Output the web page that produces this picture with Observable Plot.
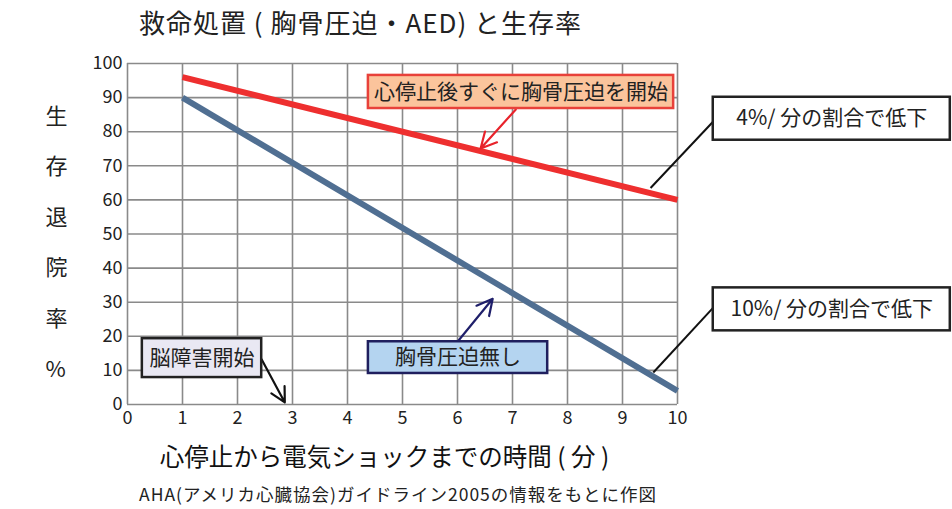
<!DOCTYPE html>
<html><head><meta charset="utf-8">
<script src="https://cdn.jsdelivr.net/npm/d3@7"></script>
<script src="https://cdn.jsdelivr.net/npm/@observablehq/plot@0.6"></script>
<style>
body{margin:0;background:#fff;font-family:"Noto Sans CJK JP",sans-serif;color:#222;width:952px;}
#title{height:44px;line-height:44px;font-size:26px;letter-spacing:1px;padding-left:139px;white-space:nowrap;}
#caption{height:26px;line-height:26px;font-size:17.5px;letter-spacing:1px;padding-left:139px;white-space:nowrap;}
</style></head><body>
<div id="title">救命処置 ( 胸骨圧迫・AED) と生存率</div>
<div id="chart"></div>
<div id="caption">AHA(アメリカ心臓協会)ガイドライン2005の情報をもとに作図</div>
<script>
// chart values
const minutes = [1, 10];
const survivalWithCPR = [96, 60];
const survivalNoCPR = [90, 4];
const xTicks = [0,1,2,3,4,5,6,7,8,9,10];
const yTicks = [0,10,20,30,40,50,60,70,80,90,100];
const seriesNames = ["心停止後すぐに胸骨圧迫を開始", "胸骨圧迫無し"];
const xTitle = "心停止から電気ショックまでの時間 ( 分 )";
const yTitle = "生\n存\n退\n院\n率\n%";

// annotation anchors (data units: minutes, %)
const calloutLabels = [seriesNames[0], "4%/ 分の割合で低下", "10%/ 分の割合で低下", "脳障害開始", seriesNames[1]];
const calloutX1 = [4.38, 10.65, 10.65, 0.27, 4.38];
const calloutX2 = [9.93, 14.96, 14.96, 2.44, 7.64];
const calloutY1 = [96.5, 90.1, 34.2, 19.3, 18.4];
const calloutY2 = [86.8, 77.5, 21.6, 7.9, 9.1];
const calloutFill = ["#fbc49c", "#ffffff", "#ffffff", "#e9e8f3", "#b4d4f0"];
const calloutStroke = ["#e8413a", "#222222", "#222222", "#222222", "#1f1f5e"];

const arrowFrom = [[7.06, 86.5], [2.44, 13.2], [6.0, 18.4]];
const arrowTo = [[6.42, 75.1], [2.86, 0.6], [6.64, 31.0]];
const arrowColor = ["#e8232b", "#111111", "#1f1f6a"];
const leaderFrom = [[10.65, 83.0], [10.65, 28.4]];
const leaderTo = [[9.51, 63.5], [9.56, 9.4]];

const lineData = [
  ...minutes.map((m, i) => ({m, v: survivalWithCPR[i], s: seriesNames[0]})),
  ...minutes.map((m, i) => ({m, v: survivalNoCPR[i], s: seriesNames[1]}))
];
const boxes = calloutLabels.map((label, i) => ({label, x1: calloutX1[i], x2: calloutX2[i], y1: calloutY1[i], y2: calloutY2[i], fill: calloutFill[i], stroke: calloutStroke[i]}));
const arrows = arrowFrom.map((f, i) => ({x1: f[0], y1: f[1], x2: arrowTo[i][0], y2: arrowTo[i][1], c: arrowColor[i]}));
const leaders = leaderFrom.map((f, i) => ({x1: f[0], y1: f[1], x2: leaderTo[i][0], y2: leaderTo[i][1]}));

const chart = Plot.plot({
  width: 952, height: 437,
  marginLeft: 127, marginRight: 275, marginTop: 19, marginBottom: 77,
  style: {fontFamily: '"Noto Sans CJK JP", sans-serif', color: "#222", background: "#fff"},
  x: {domain: [0, 10]},
  y: {domain: [0, 100]},
  color: {domain: seriesNames, range: ["#ee2f2f", "#506f92"]},
  marks: [
    Plot.gridX(xTicks, {stroke: "#8a8a8a", strokeOpacity: 1, strokeWidth: 1.6}),
    Plot.gridY(yTicks, {stroke: "#8a8a8a", strokeOpacity: 1, strokeWidth: 1.6}),
    Plot.axisX(xTicks, {tickSize: 0, tickPadding: 7, fontSize: 18, label: null}),
    Plot.axisY(yTicks, {tickSize: 0, tickPadding: 5, fontSize: 18, label: null}),
    Plot.line(lineData, {x: "m", y: "v", z: "s", stroke: "s", strokeWidth: 6, strokeLinecap: "butt"}),
    Plot.link(leaders, {x1: "x1", y1: "y1", x2: "x2", y2: "y2", stroke: "#111", strokeWidth: 2}),
    Plot.arrow(arrows, {x1: "x1", y1: "y1", x2: "x2", y2: "y2", stroke: "c", strokeWidth: 2.2, headLength: 12, headAngle: 55}),
    Plot.rect(boxes, {x1: "x1", x2: "x2", y1: "y1", y2: "y2", fill: "fill", stroke: "stroke", strokeWidth: 2.5}),
    Plot.text(boxes, {x: d => (d.x1 + d.x2) / 2, y: d => (d.y1 + d.y2) / 2, text: "label", fontSize: 21, fill: "#222"}),
    Plot.text([xTitle], {frameAnchor: "bottom", dx: -18, dy: 61, text: d => d, fontSize: 24.5, fontWeight: 400, fill: "#111", letterSpacing: "0.8px"}),
    Plot.text([yTitle], {frameAnchor: "left", dx: -82, text: d => d, fontSize: 22, lineHeight: 2.3, fill: "#222"})
  ]
});
document.getElementById("chart").appendChild(chart);
</script>
</body></html>
